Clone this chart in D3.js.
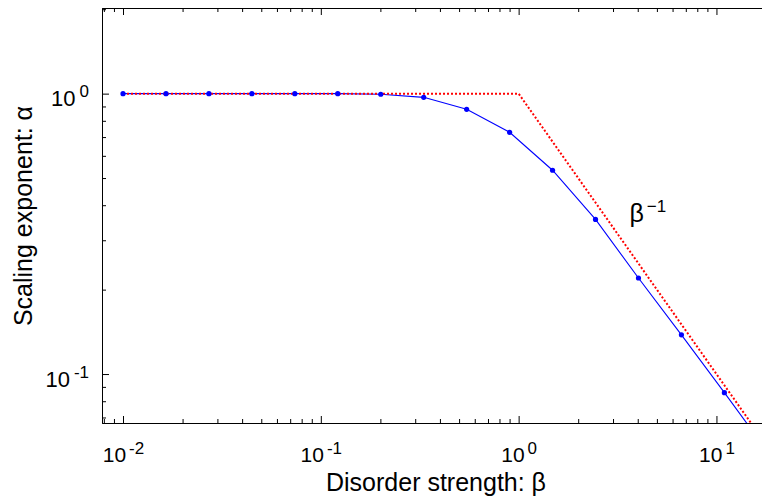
<!DOCTYPE html>
<html lang="en">
<head>
<meta charset="UTF-8">
<title>Scaling exponent against disorder strength</title>
<script src="https://d3js.org/d3.v7.min.js"></script>
<style>
  body { margin: 0; background: #fff; overflow: hidden; }
  svg { display: block; font-family: "Liberation Sans", Arial, Helvetica, sans-serif; }
</style>
</head>
<body>
<script>
    // measured curve
    const beta = [0.01, 0.01649, 0.02718, 0.04482, 0.07389, 0.1218, 0.2009, 0.3312,
                  0.5460, 0.9002, 1.484, 2.447, 4.034, 6.651, 10.97, 18.09]
    const alpha = [1.0, 1.0, 1.0, 1.0, 1.0, 1.0, 0.995, 0.970,
                   0.879, 0.728, 0.533, 0.356, 0.220, 0.138, 0.0858, 0.053]

    // reference min(1, 1/beta)
    const refBeta = [0.01, 1, 20]
    const refAlpha = [1, 1, 0.05]

    const xMajor = [0.01, 0.1, 1, 10]
    const xExp = ["-2", "-1", "0", "1"]
    const yMajor = [0.1, 1]
    const yExp = ["-1", "0"]

    const width = 762, height = 502
    const plot = {left: 102, top: 8, right: 776, bottom: 423}

    const svg = d3.select("body").append("svg")
        .attr("width", width)
        .attr("height", height)

    const x = d3.scaleLog().domain([0.00783, 20]).range([plot.left, plot.right])
    const y = d3.scaleLog().domain([0.0669, 2.02]).range([plot.bottom, plot.top])

    svg.append("clipPath").attr("id", "clip").append("rect")
        .attr("x", plot.left)
        .attr("y", plot.top)
        .attr("width", plot.right - plot.left)
        .attr("height", plot.bottom - plot.top)

    const isMajor = v => Math.abs(Math.log10(v) - Math.round(Math.log10(v))) < 1e-9
    const xMinor = x.ticks().filter(v => !isMajor(v))
    const yMinor = y.ticks().filter(v => !isMajor(v))

    function styleAxis(g) {
        g.attr("font-family", null)
        g.selectAll("line, path").attr("stroke", "#000")
    }

    // minor ticks
    svg.append("g").attr("transform", `translate(0,${plot.bottom})`)
        .call(d3.axisBottom(x).tickValues(xMinor).tickSize(-4).tickSizeOuter(0).tickFormat(""))
    svg.append("g").attr("transform", `translate(0,${plot.top})`)
        .call(d3.axisTop(x).tickValues(xMinor).tickSize(-4).tickSizeOuter(0).tickFormat(""))
    svg.append("g").attr("transform", `translate(${plot.left},0)`)
        .call(d3.axisLeft(y).tickValues(yMinor).tickSize(-4).tickSizeOuter(0).tickFormat(""))

    // major ticks + labels
    svg.append("g").attr("transform", `translate(0,${plot.top})`)
        .call(d3.axisTop(x).tickValues(xMajor).tickSize(-7).tickSizeOuter(0).tickFormat(""))

    const xAxis = svg.append("g").attr("transform", `translate(0,${plot.bottom})`)
        .call(d3.axisBottom(x).tickValues(xMajor).tickSize(-7).tickSizeOuter(0))
        .call(styleAxis)
    xAxis.selectAll(".tick text").each(function (d, i) {
        const t = d3.select(this).text(null)
            .attr("y", 38.5).attr("dy", null)
            .style("font-size", "21px")
        t.append("tspan").text("10")
        t.append("tspan").attr("dx", 3).attr("dy", -8).style("font-size", "17px").text(xExp[i])
    })

    const yAxis = svg.append("g").attr("transform", `translate(${plot.left},0)`)
        .call(d3.axisLeft(y).tickValues(yMajor).tickSize(-7).tickSizeOuter(0))
        .call(styleAxis)
    yAxis.selectAll(".tick text").each(function (d, i) {
        const t = d3.select(this).text(null)
            .attr("x", -13).attr("y", 12).attr("dy", null)
            .style("font-size", "22px")
        t.append("tspan").text("10")
        t.append("tspan").attr("dx", 4).attr("dy", -9).style("font-size", "17px").text(yExp[i])
    })

    const line = d3.line().x(d => x(d[0])).y(d => y(d[1]))

    svg.append("path")
        .datum(d3.zip(beta, alpha))
        .attr("clip-path", "url(#clip)")
        .attr("fill", "none")
        .attr("stroke", "#0000ff")
        .attr("stroke-width", 1.1)
        .attr("d", line)

    svg.append("path")
        .datum(d3.zip(refBeta, refAlpha))
        .attr("clip-path", "url(#clip)")
        .attr("fill", "none")
        .attr("stroke", "#ff0000")
        .attr("stroke-width", 2)
        .attr("stroke-dasharray", "2,2")
        .attr("d", line)

    svg.append("g")
        .attr("clip-path", "url(#clip)")
        .selectAll("circle")
        .data(d3.zip(beta, alpha))
        .join("circle")
        .attr("cx", d => x(d[0]))
        .attr("cy", d => y(d[1]))
        .attr("r", 2.6)
        .attr("fill", "#0000ff")

    // annotation
    const ann = svg.append("text")
        .attr("x", x(3.63))
        .attr("y", y(0.348))
        .style("font-size", "25px")
    ann.append("tspan").text("β")
    ann.append("tspan").attr("dx", 3).attr("dy", -10).style("font-size", "17px").text("−1")

    // axis titles
    svg.append("text")
        .attr("x", 436)
        .attr("y", 491)
        .attr("text-anchor", "middle")
        .style("font-size", "25px")
        .text("Disorder strength: β")

    svg.append("text")
        .attr("transform", "translate(32,216) rotate(-90)")
        .attr("text-anchor", "middle")
        .style("font-size", "25px")
        .text("Scaling exponent: α")
</script>
</body>
</html>
